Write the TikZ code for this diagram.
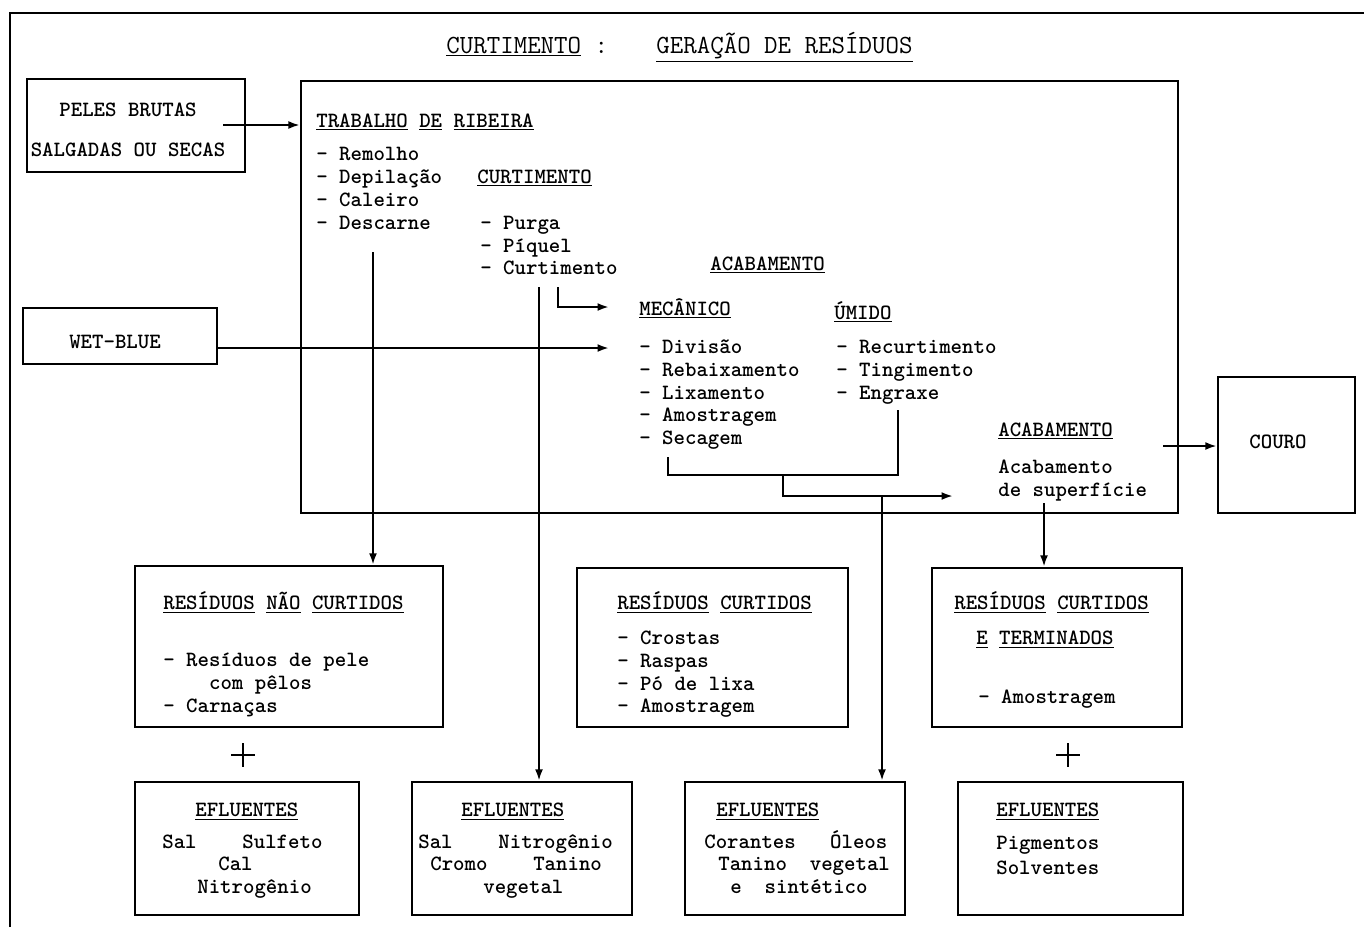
\documentclass[tikz,border=0pt]{standalone}
\usepackage{tikz}
\usetikzlibrary{arrows.meta}
\newcommand\typfont{\ttfamily\bfseries\fontsize{12.4}{13.1}\selectfont}
\newcommand\titfont{\ttfamily\fontsize{14.9}{16}\selectfont}

\begin{document}
\begin{tikzpicture}[x=0.02cm, y=-0.02cm,
  box node/.style={draw, line width=1.4pt, inner sep=0pt},
  text node/.style={anchor=base west, inner sep=0pt, font=\typfont},
  flow/.style={line width=1.2pt, -{Latex[length=6.5pt,width=4.5pt]}}]

\useasboundingbox (0,0) rectangle (1364,927);
\draw[line width=1.6pt] (10,927) -- (10,13) -- (1364,13);

\node[text node, font=\titfont] (title-a) at (446,53) {\underline{CURTIMENTO} :};
\node[text node, font=\titfont] (title-b) at (656,53) {\underline{GERAÇÃO DE RESÍDUOS}};

\node[box node, minimum width=4.36cm, minimum height=1.86cm] (peles) at (136,125.5) {};
\node[text node, anchor=base] (peles-a) at (128,116) {PELES BRUTAS};
\node[text node, anchor=base] (peles-b) at (128,156) {SALGADAS OU SECAS};

\node[box node, minimum width=17.54cm, minimum height=8.64cm] (main) at (739.5,297) {};
\node[box node, minimum width=3.88cm, minimum height=1.12cm] (wetblue) at (120,336) {};
\node[text node, anchor=base] (wetblue-t) at (115,348.5) {WET-BLUE};
\node[box node, minimum width=2.74cm, minimum height=2.72cm] (couro) at (1286.5,445) {};
\node[text node, anchor=base] (couro-t) at (1278,448.5) {COURO};

\node[text node] (ribeira) at (316,127) {\underline{TRABALHO} \underline{DE} \underline{RIBEIRA}};
\foreach \word [count=\i from 0] in {Remolho, Depilação, Caleiro, Descarne}
  \node[text node] (ribeira-\i) at (316,160.5+23*\i) {- \word};

\node[text node] (curt) at (477,183) {\underline{CURTIMENTO}};
\foreach \word [count=\i from 0] in {Purga, Píquel, Curtimento}
  \node[text node] (curt-\i) at (480,229.5+22.5*\i) {- \word};

\node[text node] (acab) at (710,270) {\underline{ACABAMENTO}};
\node[text node] (mec) at (639,315) {\underline{MECÂNICO}};
\foreach \word [count=\i from 0] in {Divisão, Rebaixamento, Lixamento, Amostragem, Secagem}
  \node[text node] (mec-\i) at (639,353.5+22.75*\i) {- \word};
\node[text node] (umido) at (834,319) {\underline{ÚMIDO}};
\foreach \word [count=\i from 0] in {Recurtimento, Tingimento, Engraxe}
  \node[text node] (umido-\i) at (836,353.5+23*\i) {- \word};

\node[text node] (final) at (998,436) {\underline{ACABAMENTO}};
\node[text node] (final-a) at (998,473) {Acabamento};
\node[text node] (final-b) at (998,496.5) {de superfície};

\node[box node, minimum width=6.16cm, minimum height=3.22cm] (rnc) at (289,646.5) {};
\node[text node] (rnc-h) at (163,609.5) {\underline{RESÍDUOS} \underline{NÃO} \underline{CURTIDOS}};
\node[text node] (rnc-a) at (163,666.5) {- Resíduos de pele};
\node[text node] (rnc-b) at (163,689) {\hphantom{xxxx}com pêlos};
\node[text node] (rnc-c) at (163,712) {- Carnaças};

\node[box node, minimum width=5.42cm, minimum height=3.18cm] (rc) at (712.5,647.5) {};
\node[text node] (rc-h) at (617,609.5) {\underline{RESÍDUOS} \underline{CURTIDOS}};
\foreach \word [count=\i from 0] in {Crostas, Raspas, Pó de lixa, Amostragem}
  \node[text node] (rc-\i) at (617,644.5+22.8*\i) {- \word};

\node[box node, minimum width=5cm, minimum height=3.18cm] (rct) at (1057,647.5) {};
\node[text node] (rct-h) at (954,609.5) {\underline{RESÍDUOS} \underline{CURTIDOS}};
\node[text node] (rct-h2) at (976,644.5) {\underline{E} \underline{TERMINADOS}};
\node[text node] (rct-a) at (978,703.5) {- Amostragem};

\node[box node, minimum width=4.48cm, minimum height=2.66cm] (efl1) at (247,848.5) {};
\node[text node] (efl1-h) at (195,816.5) {\underline{EFLUENTES}};
\node[text node] (efl1-a) at (162,848.5) {Sal~~~~Sulfeto};
\node[text node] (efl1-b) at (218,870.5) {Cal};
\node[text node] (efl1-c) at (197,893.5) {Nitrogênio};

\node[box node, minimum width=4.4cm, minimum height=2.66cm] (efl2) at (522,848.5) {};
\node[text node] (efl2-h) at (461,816.5) {\underline{EFLUENTES}};
\node[text node] (efl2-a) at (418,848.5) {Sal~~~~Nitrogênio};
\node[text node] (efl2-b) at (430,870.5) {Cromo~~~~Tanino};
\node[text node] (efl2-c) at (483,893.5) {vegetal};

\node[box node, minimum width=4.4cm, minimum height=2.66cm] (efl3) at (795,848.5) {};
\node[text node] (efl3-h) at (716,816.5) {\underline{EFLUENTES}};
\node[text node] (efl3-a) at (704,848.5) {Corantes~~~Óleos};
\node[text node] (efl3-b) at (718,870.5) {Tanino~~vegetal};
\node[text node] (efl3-c) at (730,893.5) {e~~sintético};

\node[box node, minimum width=4.5cm, minimum height=2.66cm] (efl4) at (1070.5,848.5) {};
\node[text node] (efl4-h) at (996,816.5) {\underline{EFLUENTES}};
\node[text node] (efl4-a) at (996,849.5) {Pigmentos};
\node[text node] (efl4-b) at (996,874.5) {Solventes};

\coordinate (peles-out) at (223,125);
\coordinate (ribeira-out) at (373,252);
\coordinate (curt-out) at (539,287);
\coordinate (curt-bend) at (558,287);
\coordinate (mec-in) at (609,307);
\coordinate (wet-in) at (609,348);
\coordinate (mec-out) at (668,457);
\coordinate (umido-out) at (898,410);
\coordinate (join) at (783,475);
\coordinate (final-in) at (953,496);
\coordinate (drop) at (882,496);
\coordinate (final-out) at (1044,503);
\coordinate (couro-in) at (1163,446);

\draw[flow] (peles-out) -- (peles-out -| main.west);
\draw[flow] (wetblue.east |- wet-in) -- (wet-in);
\draw[flow] (ribeira-out) -- (ribeira-out |- rnc.north);
\draw[flow] (curt-out) -- (curt-out |- efl2.north);
\draw[flow] (curt-bend) |- (mec-in);
\draw[line width=1.2pt] (mec-out) |- (join) -| (umido-out);
\draw[flow] (join) |- (final-in);
\draw[flow] (drop) -- (drop |- efl3.north);
\draw[flow] (final-out) -- (final-out |- rct.north);
\draw[flow] (couro-in) -- (couro-in -| couro.west);

\draw[line width=1.6pt] (231,755) -- (255,755) (243,743) -- (243,767);
\draw[line width=1.6pt] (1056,755) -- (1080,755) (1068,743) -- (1068,767);

\end{tikzpicture}
\end{document}
